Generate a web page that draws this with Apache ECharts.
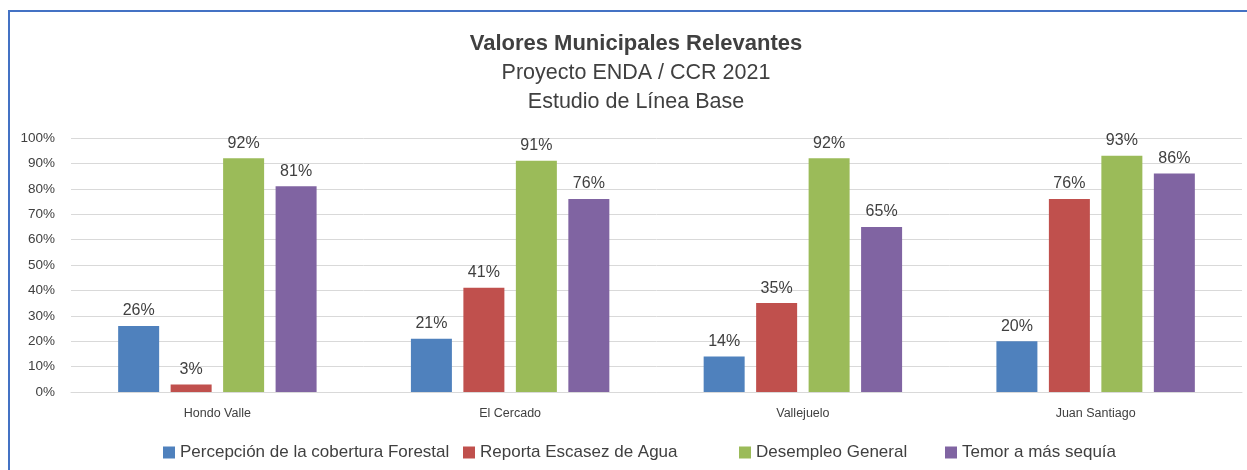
<!DOCTYPE html>
<html>
<head>
<meta charset="utf-8">
<script src="https://cdn.jsdelivr.net/npm/echarts@6/dist/echarts.min.js"></script>
<style>
  html, body { margin: 0; padding: 0; background: #fff; }
  #frame { position: absolute; left: 8px; top: 10px; width: 1260px; height: 480px;
           border-left: 2px solid #4472c4; border-top: 2px solid #4472c4; }
  #chart { position: absolute; left: 0; top: 0; width: 1247px; height: 470px; }
</style>
</head>
<body>
<div id="frame"></div>
<div id="chart"></div>
<script>
const categories = ['Hondo Valle', 'El Cercado', 'Vallejuelo', 'Juan Santiago'];
const seriesNames = [
  'Percepción de la cobertura Forestal',
  'Reporta Escasez de Agua',
  'Desempleo General',
  'Temor a más sequía'
];
const forestal = [26, 21, 14, 20];
const escasez = [3, 41, 35, 76];
const desempleo = [92, 91, 92, 93];
const sequia = [81, 76, 65, 86];
const yTicks = [0, 10, 20, 30, 40, 50, 60, 70, 80, 90, 100];

const colors = ['#4f81bd', '#c0504d', '#9bbb59', '#8064a2'];
const font = '"Liberation Sans", Arial, sans-serif';
const legendLeft = [163, 463, 739, 945];

const chart = echarts.init(document.getElementById('chart'));

const makeSeries = (name, data, color) => ({
  name,
  type: 'bar',
  data,
  barWidth: 41,
  barGap: '28%',
  itemStyle: { color },
  label: {
    show: true,
    position: 'top',
    distance: 7,
    formatter: p => p.value + '%',
    color: '#404040',
    fontSize: 16,
    fontFamily: font
  }
});

// one legend per item so the spacing follows the original
const legends = seriesNames.map((name, i) => ({
  top: 444,
  left: legendLeft[i],
  padding: 0,
  itemWidth: 12,
  itemHeight: 12,
  icon: 'rect',
  textStyle: { fontFamily: font, fontSize: 17, color: '#404040' },
  data: [name]
}));

chart.setOption({
  animation: false,
  backgroundColor: 'transparent',
  title: {
    text: 'Valores Municipales Relevantes',
    subtext: 'Proyecto ENDA / CCR 2021\nEstudio de Línea Base',
    left: 631,
    textAlign: 'center',
    top: 28,
    itemGap: 4,
    textStyle: { fontFamily: font, fontSize: 22, fontWeight: 'bold', color: '#404040' },
    subtextStyle: { fontFamily: font, fontSize: 21.5, color: '#404040', lineHeight: 29 }
  },
  legend: legends,
  grid: { left: 71, right: 5, top: 138, bottom: 78, containLabel: false },
  xAxis: {
    type: 'category',
    data: categories,
    axisLine: { lineStyle: { color: '#d9d9d9', width: 1 } },
    axisTick: { show: false },
    axisLabel: { color: '#404040', fontSize: 12.5, fontFamily: font, margin: 15 }
  },
  yAxis: {
    type: 'value',
    min: 0,
    max: 100,
    interval: 10,
    axisLine: { show: false },
    axisTick: { show: false },
    splitLine: { lineStyle: { color: '#d9d9d9', width: 1 } },
    axisLabel: {
      color: '#404040', fontSize: 13.5, fontFamily: font, margin: 16,
      formatter: v => yTicks.includes(v) ? v + '%' : ''
    }
  },
  series: [
    makeSeries(seriesNames[0], forestal, colors[0]),
    makeSeries(seriesNames[1], escasez, colors[1]),
    makeSeries(seriesNames[2], desempleo, colors[2]),
    makeSeries(seriesNames[3], sequia, colors[3])
  ]
});
</script>
</body>
</html>
